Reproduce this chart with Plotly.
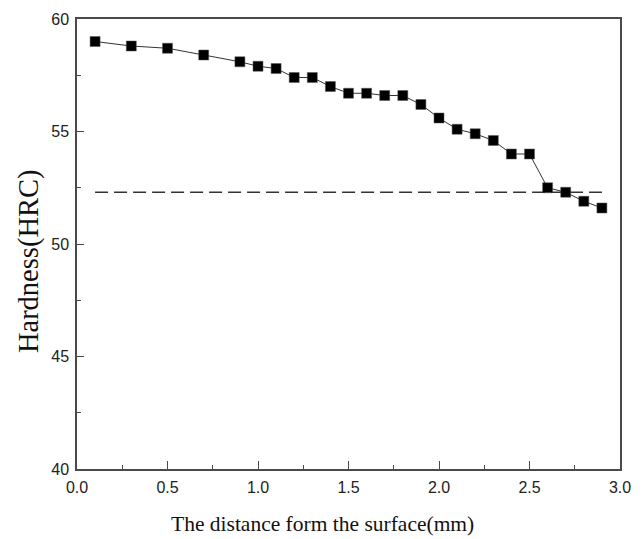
import plotly.graph_objects as go

# Data
distance_mm = [0.1, 0.3, 0.5, 0.7, 0.9, 1.0, 1.1, 1.2, 1.3, 1.4, 1.5, 1.6, 1.7,
               1.8, 1.9, 2.0, 2.1, 2.2, 2.3, 2.4, 2.5, 2.6, 2.7, 2.8, 2.9]
hardness_hrc = [59.0, 58.8, 58.7, 58.4, 58.1, 57.9, 57.8, 57.4, 57.4, 57.0, 56.7, 56.7, 56.6,
                56.6, 56.2, 55.6, 55.1, 54.9, 54.6, 54.0, 54.0, 52.5, 52.3, 51.9, 51.6]
ref_x = [0.1, 2.9]
ref_level = 52.3

x_title = "The distance form the surface(mm)"
y_title = "Hardness(HRC)"

fig = go.Figure()

fig.add_trace(go.Scatter(
    x=ref_x, y=[ref_level] * len(ref_x), mode="lines",
    line=dict(color="#333333", width=1.3, dash="13px,6px"),
    showlegend=False, hoverinfo="skip"))

fig.add_trace(go.Scatter(
    x=distance_mm, y=hardness_hrc, mode="lines+markers",
    line=dict(color="#333333", width=1),
    marker=dict(symbol="square", size=10, color="black",
                line=dict(color="#555555", width=0.5)),
    showlegend=False))

axis_common = dict(
    showgrid=False, zeroline=False, showline=True, mirror=True,
    linecolor="#4a4a4a", linewidth=1.5,
    ticks="inside", tickcolor="#4a4a4a", tickwidth=1,
    tickfont=dict(family="Liberation Sans, Arial", size=16, color="#222222"),
)

fig.update_xaxes(range=[0, 3.0], dtick=0.5, tick0=0, tickformat=".1f", ticklen=8,
                 ticklabelstandoff=3,
                 minor=dict(dtick=0.25, ticks="inside", ticklen=4, tickcolor="#4a4a4a"),
                 **axis_common)
fig.update_yaxes(range=[40, 60], dtick=5, tick0=40, ticklen=7,
                 ticklabelstandoff=3,
                 minor=dict(dtick=2.5, ticks="inside", ticklen=4, tickcolor="#4a4a4a"),
                 **axis_common)

fig.add_annotation(text=x_title, xref="paper", yref="paper", x=0.452, y=0,
                   xanchor="center", yanchor="middle", yshift=-55, showarrow=False,
                   font=dict(family="Liberation Serif, Times New Roman", size=21.5, color="#111111"))
fig.add_annotation(text=y_title, xref="paper", yref="paper", x=0, y=0.462,
                   xanchor="center", yanchor="middle", xshift=-48, textangle=-90,
                   showarrow=False,
                   font=dict(family="Liberation Serif, Times New Roman", size=28.5, color="#111111"))

fig.update_layout(
    width=644, height=539,
    margin=dict(l=77, r=24, t=19, b=70),
    paper_bgcolor="white", plot_bgcolor="white",
)

# Remove the default page margin so the 644x539 figure fills the window exactly.
fig.write_html("out.html",
               config={"displayModeBar": False},
               post_script="document.body.style.margin='0px';"
                           "document.body.style.overflow='hidden';")
